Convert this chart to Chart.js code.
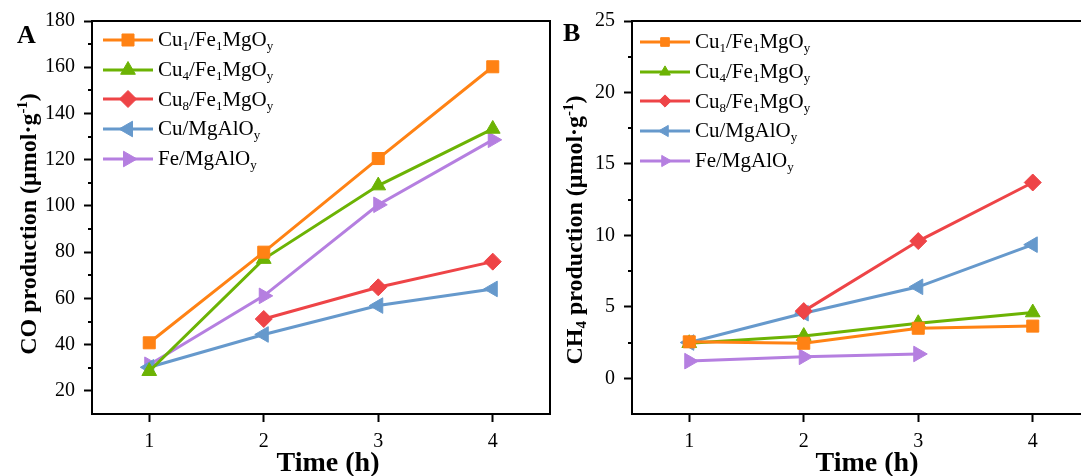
<!DOCTYPE html>
<html>
<head>
<meta charset="utf-8">
<script src="https://cdn.jsdelivr.net/npm/chart.js@4.4.1/dist/chart.umd.min.js"></script>
<style>
  html, body { margin: 0; padding: 0; background: #fff; overflow: hidden; width: 1081px; height: 476px; }
  body { position: relative; font-family: 'Liberation Serif', 'Times New Roman', serif; color: #000; }
  canvas.plot { position: absolute; top: 0; }
  #chartA { left: 0; }
  #chartB { left: 560px; }
  .lbl { position: absolute; white-space: nowrap; line-height: 1; }
  .panel { font-size: 26px; font-weight: bold; }
  .xtitle { font-size: 28px; font-weight: bold; transform: translateX(-50%); }
  .ytitle { font-size: 24px; font-weight: bold; transform: translate(-50%, -50%) rotate(-90deg); }
  sub, sup { line-height: 0; font-size: 0.62em; }
  sub { vertical-align: -0.28em; }
  sup { vertical-align: 0.62em; }
  .legend { position: absolute; font-size: 21px; }
  .legend .row { display: flex; align-items: center; height: 29.7px; white-space: nowrap; }
  .legend canvas { display: block; margin-right: 5px; }
</style>
</head>
<body>
<canvas id="chartA" class="plot" width="560" height="476"></canvas>
<canvas id="chartB" class="plot" width="540" height="476"></canvas>

<div class="lbl panel" style="left:17px; top:22px;">A</div>
<div class="lbl panel" style="left:563px; top:20px;">B</div>
<div class="lbl ytitle" style="left:28px; top:224px;">CO production (μmol·g<sup>-1</sup>)</div>
<div class="lbl ytitle" style="left:574px; top:230px;">CH<sub>4</sub> production (μmol·g<sup>-1</sup>)</div>
<div class="lbl xtitle" style="left:328px; top:448px;">Time (h)</div>
<div class="lbl xtitle" style="left:867px; top:448px;">Time (h)</div>
<div id="legendA" class="legend" style="left:103px; top:25px;"></div>
<div id="legendB" class="legend" style="left:640px; top:27px;"></div>

<script>
// ---- data ----
const timeH = [1, 2, 3, 4];
const xTickVals = [1, 2, 3, 4];

const seriesNames = ['Cu1/Fe1MgOy', 'Cu4/Fe1MgOy', 'Cu8/Fe1MgOy', 'Cu/MgAlOy', 'Fe/MgAlOy'];
const seriesHtml = [
  'Cu<sub>1</sub>/Fe<sub>1</sub>MgO<sub>y</sub>',
  'Cu<sub>4</sub>/Fe<sub>1</sub>MgO<sub>y</sub>',
  'Cu<sub>8</sub>/Fe<sub>1</sub>MgO<sub>y</sub>',
  'Cu/MgAlO<sub>y</sub>',
  'Fe/MgAlO<sub>y</sub>',
];
const seriesColors = ['#FF8214', '#6CB304', '#EE4447', '#6699CC', '#B57FE0'];
const seriesMarkers = ['rect', 'triangle', 'rectRot', 'triangle', 'triangle'];
const markerRotation = [0, 0, 0, -90, 90];
const markerRadius = [8.5, 8.5, 8.5, 9, 9];

// CO production (umol/g), panel A
const coCu1 = [40.8, 80, 120.5, 160.2];
const coCu4 = [28.5, 77, 108.8, 133.3];
const coCu8 = [null, 51.1, 64.8, 75.9];
const coCuMg = [30.2, 44.4, 56.9, 64.1];
const coFeMg = [31.3, 61.1, 100.5, 128.6];

// CH4 production (umol/g), panel B
const ch4Cu1 = [2.55, 2.45, 3.5, 3.65];
const ch4Cu4 = [2.45, 2.95, 3.85, 4.6];
const ch4Cu8 = [null, 4.7, 9.6, 13.7];
const ch4CuMg = [2.5, 4.55, 6.4, 9.35];
const ch4FeMg = [1.2, 1.5, 1.7, null];

const coTicks = [20, 40, 60, 80, 100, 120, 140, 160, 180];
const coMinor = [30, 50, 70, 90, 110, 130, 150, 170];
const ch4Ticks = [0, 5, 10, 15, 20, 25];
const ch4Minor = [2.5, 7.5, 12.5, 17.5, 22.5];

// ---- helpers ----
const serif = "'Liberation Serif', 'Times New Roman', serif";
const tickFont = { family: serif, size: 20 };

// top/right frame + short minor ticks on the y axis
const framePlugin = {
  id: 'frame',
  afterDraw(chart, args, opts) {
    const { ctx, chartArea: a, scales } = chart;
    ctx.save();
    ctx.strokeStyle = '#000';
    ctx.lineWidth = 2;
    ctx.beginPath();
    ctx.moveTo(a.left, a.top);
    ctx.lineTo(a.right, a.top);
    ctx.lineTo(a.right, a.bottom);
    ctx.stroke();
    (opts.minor || []).forEach((v) => {
      const y = Math.round(scales.y.getPixelForValue(v));
      ctx.beginPath();
      ctx.moveTo(a.left - 4, y);
      ctx.lineTo(a.left, y);
      ctx.stroke();
    });
    ctx.restore();
  },
};

const makeSets = (cols) => cols.map((vals, i) => ({
  label: seriesNames[i],
  data: timeH.map((t, k) => ({ x: t, y: vals[k] })),
  borderColor: seriesColors[i],
  backgroundColor: seriesColors[i],
  borderWidth: 3,
  pointStyle: seriesMarkers[i],
  rotation: markerRotation[i],
  pointRadius: markerRadius[i],
  pointBorderWidth: 1,
  pointBackgroundColor: seriesColors[i],
  pointBorderColor: seriesColors[i],
  spanGaps: false,
}));

const makeChart = (id, cols, yMin, yMax, yTicks, yMinor, yWidth, padRight) => new Chart(document.getElementById(id), {
  type: 'line',
  data: { datasets: makeSets(cols) },
  plugins: [framePlugin],
  options: {
    responsive: false,
    animation: false,
    layout: { padding: { top: 21, right: padRight, left: 0, bottom: 0 } },
    plugins: {
      legend: { display: false },
      tooltip: { enabled: false },
      frame: { minor: yMinor },
    },
    scales: {
      x: {
        type: 'linear',
        min: 0.5,
        max: 4.5,
        afterBuildTicks: (s) => { s.ticks = xTickVals.map((v) => ({ value: v })); },
        afterFit: (s) => { s.height = 62; },
        grid: { drawOnChartArea: false, color: '#000', tickLength: 8, tickWidth: 2 },
        border: { color: '#000', width: 2 },
        ticks: { color: '#000', font: tickFont, padding: 8, maxRotation: 0 },
      },
      y: {
        type: 'linear',
        min: yMin,
        max: yMax,
        afterBuildTicks: (s) => { s.ticks = yTicks.map((v) => ({ value: v })); },
        afterFit: (s) => { s.width = yWidth; },
        grid: { drawOnChartArea: false, color: '#000', tickLength: 8, tickWidth: 2 },
        border: { color: '#000', width: 2 },
        ticks: { color: '#000', font: tickFont, padding: 9 },
      },
    },
  },
});

// HTML legend so the chemical formulas can carry subscripts
const buildLegend = (chart, boxId, radiusScale) => {
  const box = document.getElementById(boxId);
  chart.data.datasets.forEach((ds, i) => {
    const row = document.createElement('div');
    row.className = 'row';
    const c = document.createElement('canvas');
    c.width = 50;
    c.height = 24;
    const g = c.getContext('2d');
    g.strokeStyle = ds.borderColor;
    g.fillStyle = ds.borderColor;
    g.lineWidth = 3;
    g.beginPath();
    g.moveTo(0, 12);
    g.lineTo(50, 12);
    g.stroke();
    g.lineWidth = 1;
    Chart.helpers.drawPoint(g, {
      pointStyle: ds.pointStyle,
      rotation: ds.rotation,
      radius: ds.pointRadius * radiusScale,
      borderWidth: 1,
    }, 25, 12);
    const t = document.createElement('span');
    t.innerHTML = seriesHtml[i];
    row.appendChild(c);
    row.appendChild(t);
    box.appendChild(row);
  });
};

const chartA = makeChart('chartA', [coCu1, coCu4, coCu8, coCuMg, coFeMg], 10, 180, coTicks, coMinor, 92, 10);
const chartB = makeChart('chartB', [ch4Cu1, ch4Cu4, ch4Cu8, ch4CuMg, ch4FeMg], -2.5, 25, ch4Ticks, ch4Minor, 72, 10);

buildLegend(chartA, 'legendA', 1);
buildLegend(chartB, 'legendB', 0.72);
</script>
</body>
</html>
